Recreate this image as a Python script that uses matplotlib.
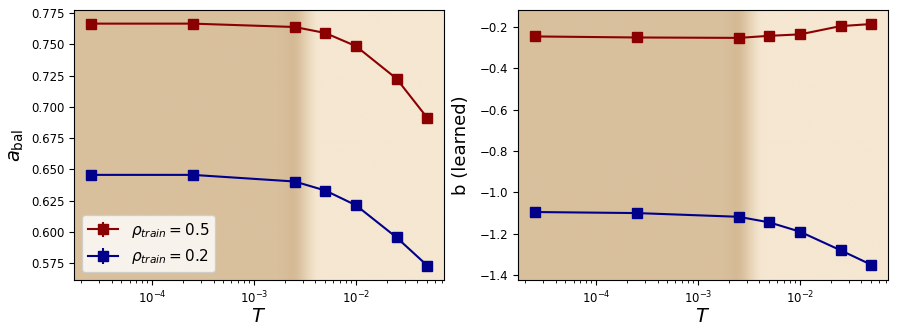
import numpy as np
import matplotlib.pyplot as plt
from matplotlib.colors import to_rgb

# temperatures
T = [2.5e-5, 2.5e-4, 2.5e-3, 5e-3, 1e-2, 2.5e-2, 5e-2]

# balanced accuracy
abal_05 = [0.7665, 0.7665, 0.7638, 0.7590, 0.7485, 0.7225, 0.6912]
abal_02 = [0.6455, 0.6455, 0.6402, 0.6330, 0.6212, 0.5955, 0.5730]
abal_err = [0.0005, 0.0005, 0.0005, 0.0005, 0.0005, 0.0005, 0.0005]

# learned bias
b_05 = [-0.245, -0.250, -0.252, -0.242, -0.235, -0.195, -0.185]
b_02 = [-1.095, -1.100, -1.118, -1.145, -1.190, -1.280, -1.350]
b_err = [0.004, 0.004, 0.004, 0.004, 0.004, 0.004, 0.004]

labels = [r'$\rho_{train} = 0.5$', r'$\rho_{train} = 0.2$']
colors = ['#8b0000', '#00008b']

dark = np.array(to_rgb('#d9c09d'))
shade = np.array(to_rgb('#d5ba95'))
light = np.array(to_rgb('#f5e7d1'))

xlim = (10**-4.767, 10**-1.136)


def background(ax):
    n = 800
    lx = np.linspace(np.log10(xlim[0]), np.log10(xlim[1]), n)
    img = np.zeros((1, n, 3))
    for i, v in enumerate(lx):
        if v < -2.76:
            c = dark
        elif v < -2.64:
            t = (v + 2.76) / 0.12
            c = dark * (1 - t) + shade * t
        elif v < -2.36:
            t = (v + 2.64) / 0.28
            t = t * t * (3 - 2 * t)
            c = shade * (1 - t) + light * t
        else:
            c = light
        img[0, i] = c
    ax.imshow(img, extent=[0, 1, 0, 1], transform=ax.transAxes,
              aspect='auto', zorder=0, interpolation='bilinear')


fig = plt.figure(figsize=(8.97, 3.35), dpi=100)
ax1 = fig.add_axes([74 / 897, 55 / 335, 370 / 897, 270 / 335])
ax2 = fig.add_axes([518 / 897, 55 / 335, 370 / 897, 270 / 335])

for ax, ys, err in [(ax1, [abal_05, abal_02], abal_err), (ax2, [b_05, b_02], b_err)]:
    ax.set_xscale('log')
    for y, c, lab in zip(ys, colors, labels):
        ax.errorbar(T, y, yerr=err, color=c, marker='s', markersize=7,
                    linewidth=1.5, label=lab, zorder=3)
    ax.set_xlim(*xlim)
    background(ax)
    ax.tick_params(labelsize=8.5)
    ax.set_xlabel(r'$T$', fontsize=14)
    ax.xaxis.set_label_coords(0.5, -0.10)

ax1.set_ylim(0.5614, 0.7774)
ax1.set_yticks([0.575, 0.6, 0.625, 0.65, 0.675, 0.7, 0.725, 0.75, 0.775])
ax1.set_ylabel(r'$a_{\rm bal}$', fontsize=14)
ax1.yaxis.set_label_coords(-0.13, 0.5)
ax1.legend(loc='lower left', fontsize=11, handlelength=2)

ax2.set_ylim(-1.424, -0.117)
ax2.set_ylabel('b (learned)', fontsize=13)
ax2.yaxis.set_label_coords(-0.13, 0.5)

fig.savefig('out.png', dpi=100)
